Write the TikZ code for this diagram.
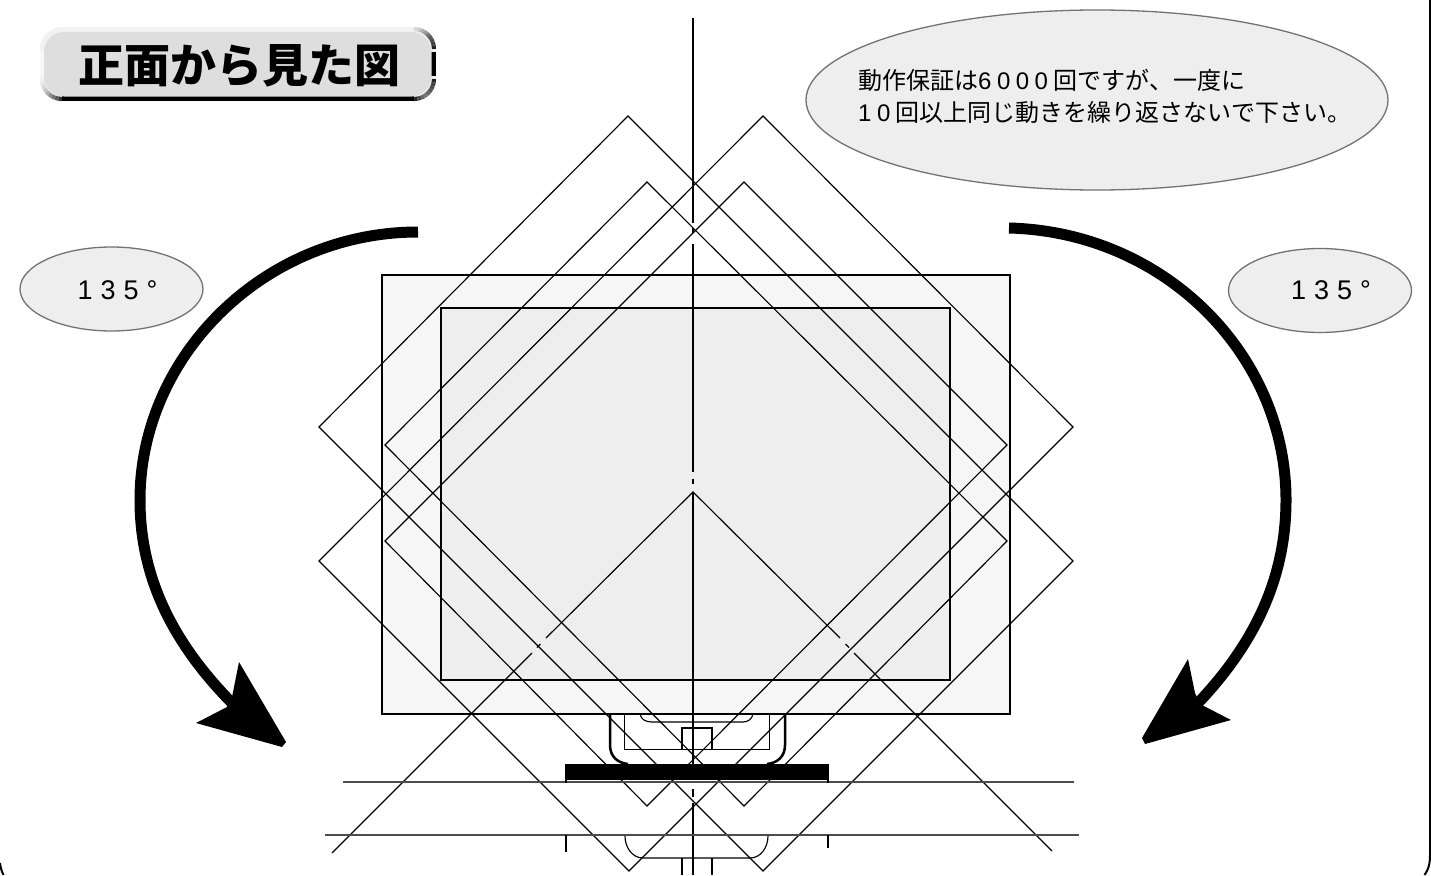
\documentclass[tikz,border=0pt]{standalone}
\usepackage{fontspec}
\setmainfont{Liberation Sans}
\newfontfamily\cjk{Noto Sans CJK JP}
\newcommand{\dg}[1]{{\rmfamily #1}\hspace{5.5pt}}
\usetikzlibrary{shapes.geometric}
\tikzset{
  thinln/.style={draw=black,line width=1.15pt},
  thickln/.style={draw=black,line width=2pt},
  grayln/.style={draw=black!70,line width=1.7pt},
  bubble/.style={ellipse,draw=black!55,line width=1.3pt,fill=black!6.5,inner sep=0pt,minimum width=183pt,minimum height=84pt},
  bigarrow/.style={draw=black,line width=11pt},
  angletext/.style={inner sep=0pt,font=\fontsize{27}{27}\selectfont},
}
\begin{document}
\begin{tikzpicture}[x=1pt,y=-1pt]
\useasboundingbox (0,0) rectangle (1431,875);
\fill[white] (0,0) rectangle (1431,875);
% frame
\draw[line width=2pt] (1430,0) -- (1430,855) .. controls (1430,865) and (1428,870) .. (1424.5,875);
\draw[line width=2pt] (0,863) .. controls (0.5,868) and (2,872) .. (3.5,875);
% screen
\draw[thickln,fill=black!3.5] (382,275) rectangle (1010,714);
\draw[line width=1.3pt,fill=black!6.5] (441,308) rectangle (950,680);
% stand
\draw[line width=2.5pt] (610,714) -- (610,745) .. controls (610,757) and (618,763) .. (628,764);
\draw[line width=2.5pt] (785,714) -- (785,745) .. controls (785,757) and (777,763) .. (767,764);
\draw[thinln] (624.5,714) -- (624.5,749.5) -- (769.5,749.5) -- (769.5,714);
\draw[thinln] (640,714) .. controls (641,719) and (645,722) .. (652,722) -- (743,722) .. controls (748,722) and (752,719) .. (753,714);
\draw[thinln] (682,749.5) -- (682,728) -- (712,728) -- (712,749.5);
\draw[thinln] (625,836) .. controls (625,847) and (632,858) .. (643,858) -- (750,858) .. controls (761,858) and (768,847) .. (768,836);
\draw[thinln] (682,858) -- (682,875) (712,858) -- (712,875);
% diamonds
\draw[thinln] (763,116) -- (1073,427) -- (629,871) -- (319,561) -- cycle;
\draw[thinln] (628,116) -- (319,427) -- (763,871) -- (1073,561) -- cycle;
\draw[thinln] (744,182) -- (1007,445) -- (647,806) -- (385,541) -- cycle;
\draw[thinln] (647,182) -- (385,445) -- (744,806) -- (1007,541) -- cycle;
% chevron
\draw[thinln] (546,638) -- (693,492) -- (840,638);
\draw[thinln] (845.5,644) -- (849,647.5) (854,653) -- (1052,851);
\draw[thinln] (540.5,644) -- (537,647.5) (532,653) -- (332,853);
% centre line
\draw[thinln] (693,18) -- (693,223) (693,228) -- (693,233) (693,244) -- (693,472) (693,479) -- (693,484) (693,492) -- (693,764) (693,789) -- (693,797) (693,803) -- (693,875);
% horizontals
\draw[grayln] (343,782) -- (1074,782);
\draw[grayln] (325,835) -- (1079,835);
% base
\fill[black] (565,764) rectangle (829,780);
\draw[line width=1.5pt] (566,780) -- (566,783) (828,780) -- (828,783);
\draw[line width=1.5pt] (566,835) -- (566,852) (828,835) -- (828,848);
% big arrows
\draw[bigarrow] (418,232) .. controls (265,232) and (140,355) .. (140,500) .. controls (140,580) and (175,645) .. (232,703);
\fill (286,742) -- (282,747) -- (196,723) -- (227,707) -- (232,697) -- (239,662) -- cycle;
\draw[bigarrow] (1009,228) .. controls (1165,232) and (1286,355) .. (1286,500) .. controls (1286,580) and (1253,645) .. (1198,703);
\fill (1142,738) -- (1145,744) -- (1231,720) -- (1200,704) -- (1195,693) -- (1188,659) -- cycle;
% title plate
\fill[black!5,rounded corners=22pt] (40,27) rectangle (436,101);
\begin{scope}
  \clip[rounded corners=22pt] (40,27) rectangle (436,101);
  \fill[black] (62,96) rectangle (414,101);
  \fill[black] (431,52) rectangle (436,76);
  \fill[black!3] (40,50) rectangle (44,78);
\end{scope}
\foreach \a/\c in {90/15,80/20,70/30,60/40,50/55,40/65,30/70,20/75,10/85}{
  \pgfmathsetmacro{\b}{\a-10}
  \draw[line width=4.2pt,black!\c] ({414+20*cos(\a)},{49-20*sin(\a)}) -- ({414+20*cos(\b)},{49-20*sin(\b)});
}
\foreach \a/\c in {0/85,-10/75,-20/70,-30/65,-40/60,-50/55,-60/60,-70/70,-80/85}{
  \pgfmathsetmacro{\b}{\a-10}
  \draw[line width=4.2pt,black!\c] ({414+20*cos(\a)},{79-20*sin(\a)}) -- ({414+20*cos(\b)},{79-20*sin(\b)});
}
\foreach \a/\c in {180/6,190/10,200/15,210/22,220/32,230/45,240/55,250/65,260/80}{
  \pgfmathsetmacro{\b}{\a+10}
  \draw[line width=4.2pt,black!\c] ({62+20*cos(\a)},{79-20*sin(\a)}) -- ({62+20*cos(\b)},{79-20*sin(\b)});
}
\fill[black!13,rounded corners=20pt] (44,32) rectangle (431.5,96.5);
\node[inner sep=0pt] (title) at (239.5,66) {\cjk\bfseries\fontsize{46}{46}\selectfont 正面から見た図};
% bubbles
\node[bubble,minimum width=582pt,minimum height=180pt] (note) at (1097,100) {};
\node[anchor=west,inner sep=0pt,align=left,font=\cjk\fontsize{24}{32}\selectfont] (notetext) at (858,96) {動作保証は\dg{6}\dg{0}\dg{0}\dg{0}回ですが、一度に\\\dg{1}\dg{0}回以上同じ動きを繰り返さないで下さい。};
\node[bubble] (leftb) at (111.5,289) {};
\node[bubble] (rightb) at (1320,290.5) {};
\node[angletext] (lefta) at (117.5,290) {1\hspace{8pt}3\hspace{8pt}5\hspace{8pt}°};
\node[angletext] (righta) at (1331,290) {1\hspace{8pt}3\hspace{8pt}5\hspace{8pt}°};
\end{tikzpicture}
\end{document}
